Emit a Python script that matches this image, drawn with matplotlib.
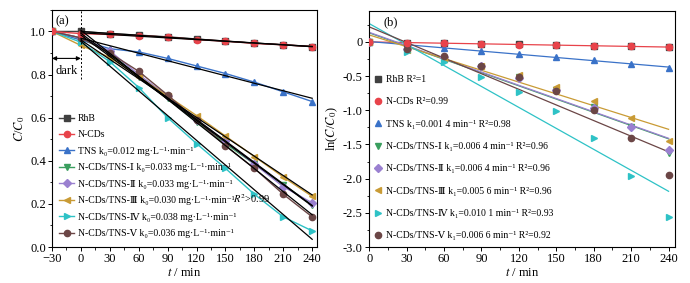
import numpy as np
import matplotlib
matplotlib.use("Agg")
import matplotlib.pyplot as plt
from matplotlib.ticker import MultipleLocator

plt.rcParams['font.family'] = ['Liberation Serif', 'DejaVu Serif']
plt.rcParams['mathtext.fontset'] = 'stix'
plt.rcParams['font.size'] = 9

# ---- datos ----
t_a = [-30, 0, 30, 60, 90, 120, 150, 180, 210, 240]
t_b = [0, 30, 60, 90, 120, 150, 180, 210, 240]

names = ['RhB', 'N-CDs', 'TNS', 'N-CDs/TNS-Ⅰ', 'N-CDs/TNS-Ⅱ',
         'N-CDs/TNS-Ⅲ', 'N-CDs/TNS-Ⅳ', 'N-CDs/TNS-Ⅴ']
colors = ['#404040', '#e8434a', '#3a72c8', '#3a9e5e', '#9a80d0',
          '#c99b35', '#2ec2c6', '#6b4646']
markers = ['s', 'o', '^', 'v', 'D', '<', '>', 'o']

# C/C0
cc_rhb = [1.0, 1.0, 0.99, 0.983, 0.975, 0.965, 0.955, 0.945, 0.938, 0.93]
cc_ncd = [1.0, 0.99, 0.986, 0.98, 0.974, 0.962, 0.955, 0.945, 0.938, 0.93]
cc_tns = [1.0, 0.96, 0.92, 0.905, 0.875, 0.84, 0.805, 0.765, 0.72, 0.675]
cc_t1 = [1.0, 0.97, 0.90, 0.79, 0.69, 0.58, 0.48, 0.385, 0.29, 0.195]
cc_t2 = [1.0, 0.97, 0.91, 0.80, 0.70, 0.59, 0.49, 0.385, 0.28, 0.205]
cc_t3 = [1.0, 0.935, 0.88, 0.79, 0.70, 0.61, 0.515, 0.42, 0.325, 0.235]
cc_t4 = [1.0, 0.95, 0.86, 0.74, 0.60, 0.48, 0.365, 0.245, 0.14, 0.075]
cc_t5 = [1.0, 0.97, 0.90, 0.815, 0.705, 0.59, 0.47, 0.365, 0.245, 0.14]
cc_all = [cc_rhb, cc_ncd, cc_tns, cc_t1, cc_t2, cc_t3, cc_t4, cc_t5]

# ln(C/C0)
ln_rhb = [0, -0.01, -0.015, -0.025, -0.035, -0.045, -0.055, -0.062, -0.072]
ln_ncd = [0, -0.01, -0.02, -0.03, -0.04, -0.05, -0.06, -0.065, -0.075]
ln_tns = [0, -0.04, -0.09, -0.14, -0.18, -0.22, -0.27, -0.32, -0.38]
ln_t1 = [0, -0.12, -0.25, -0.37, -0.52, -0.70, -0.96, -1.25, -1.62]
ln_t2 = [0, -0.10, -0.22, -0.36, -0.53, -0.71, -0.97, -1.25, -1.58]
ln_t3 = [0, -0.12, -0.25, -0.35, -0.48, -0.66, -0.87, -1.12, -1.45]
ln_t4 = [0, -0.15, -0.30, -0.51, -0.73, -1.01, -1.41, -1.96, -2.56]
ln_t5 = [0, -0.10, -0.20, -0.35, -0.52, -0.72, -1.00, -1.41, -1.95]
ln_all = [ln_rhb, ln_ncd, ln_tns, ln_t1, ln_t2, ln_t3, ln_t4, ln_t5]

k0_txt = ['', '', '0.012', '0.033', '0.033', '0.030', '0.038', '0.036']
k1_txt = ['', '', '0.001 4', '0.006 4', '0.006 4', '0.005 6', '0.010 1', '0.006 6']
r2_txt = ['1', '0.99', '0.98', '0.96', '0.96', '0.96', '0.93', '0.92']

fig = plt.figure(figsize=(6.9, 2.83), dpi=100)
ax1 = fig.add_axes([0.0754, 0.127, 0.384, 0.838])
ax2 = fig.add_axes([0.535, 0.127, 0.443, 0.834])

# ---- (a) ----
for i in range(len(names)):
    lab = names[i]
    if k0_txt[i]:
        lab = lab + ' k₀=' + k0_txt[i] + ' mg·L⁻¹·min⁻¹'
    ax1.plot(t_a, cc_all[i], color=colors[i], marker=markers[i], ms=4.5,
             lw=1.0, label=lab, zorder=2 + (i == 1))
for i in range(len(names)):
    p = np.polyfit(t_a[1:], cc_all[i][1:], 1)
    ax1.plot([0, 240], np.polyval(p, [0, 240]), color='black', lw=0.9, zorder=4)

ax1.axvline(0, ymin=0.78 / 1.1, ymax=1, color='black', ls=(0, (2, 2)), lw=0.7)
ax1.annotate('', xy=(0, 0.875), xytext=(-30, 0.875),
             arrowprops=dict(arrowstyle='<|-|>', color='black', lw=0.8,
                             mutation_scale=6, shrinkA=0, shrinkB=0))
ax1.text(-15, 0.815, 'dark', ha='center', va='center', fontsize=9)
ax1.text(-19, 1.045, '(a)', ha='center', va='center', fontsize=9)
ax1.text(158, 0.225, r'$R^2$>0.99', ha='left', va='center', fontsize=7.5)

ax1.set_xlim(-30, 245)
ax1.set_ylim(0, 1.1)
ax1.xaxis.set_major_locator(MultipleLocator(30))
ax1.xaxis.set_minor_locator(MultipleLocator(15))
ax1.yaxis.set_major_locator(MultipleLocator(0.2))
ax1.yaxis.set_minor_locator(MultipleLocator(0.1))
ax1.yaxis.set_major_formatter(plt.FormatStrFormatter('%.1f'))
ax1.set_xlabel(r'$t$ / min', labelpad=1)
ax1.set_ylabel(r'$C$/$C_0$', labelpad=2)
ax1.legend(loc='lower left', bbox_to_anchor=(-0.005, 0.0), frameon=False,
           fontsize=7, handlelength=1.5, handletextpad=0.4,
           labelspacing=0.77, borderaxespad=0.5)

# ---- (b) ----
for i in range(len(names)):
    lab = names[i]
    if k1_txt[i]:
        lab = lab + ' k₁=' + k1_txt[i] + ' min⁻¹'
    lab = lab + ' R²=' + r2_txt[i]
    ax2.plot(t_b, ln_all[i], ls='none', color=colors[i], marker=markers[i],
             ms=4.5, label=lab, zorder=3 + (i == 1))
for i in range(1, len(names)):
    p = np.polyfit(t_b, ln_all[i], 1)
    ax2.plot([0, 240], np.polyval(p, [0, 240]), color=colors[i], lw=0.9, zorder=2)

ax2.text(17, 0.28, '(b)', ha='center', va='center', fontsize=9)
ax2.set_xlim(0, 245)
ax2.set_ylim(-3.0, 0.45)
ax2.xaxis.set_major_locator(MultipleLocator(30))
ax2.xaxis.set_minor_locator(MultipleLocator(15))
ax2.yaxis.set_minor_locator(MultipleLocator(0.25))
ax2.set_yticks([0, -0.5, -1.0, -1.5, -2.0, -2.5, -3.0])
ax2.set_yticklabels(['0', '-0.5', '-1.0', '-1.5', '-2.0', '-2.5', '-3.0'])
ax2.set_xlabel(r'$t$ / min', labelpad=1)
ax2.set_ylabel(r'ln($C$/$C_0$)', labelpad=2)
ax2.legend(loc='lower left', bbox_to_anchor=(-0.005, 0.0), frameon=False,
           fontsize=7, handlelength=0.8, handletextpad=0.4,
           labelspacing=1.37, borderaxespad=0.3)

for ax in (ax1, ax2):
    ax.tick_params(which='major', direction='out', length=3, width=0.7, pad=1.5)
    ax.tick_params(which='minor', direction='out', length=1.8, width=0.6)
    for s in ax.spines.values():
        s.set_linewidth(0.8)

fig.savefig('out.png', dpi=100)
